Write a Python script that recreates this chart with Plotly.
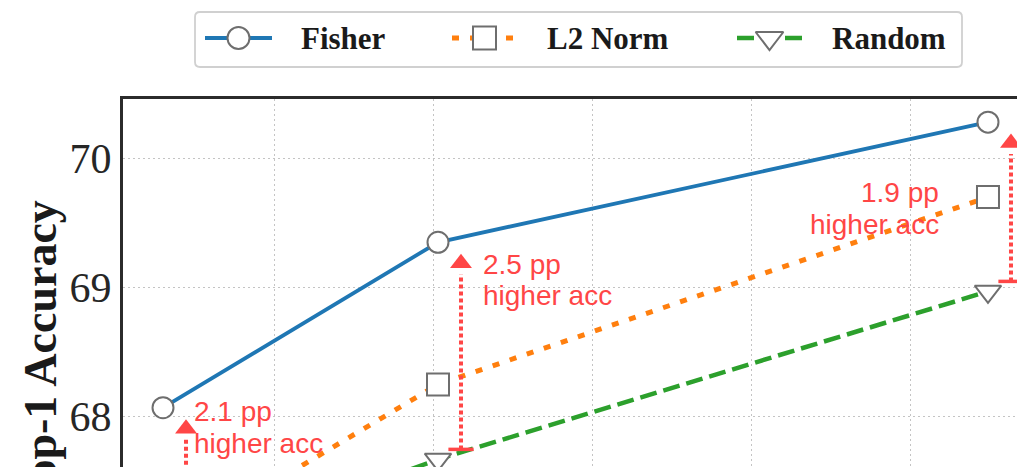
import plotly.graph_objects as go

# ---- data -------------------------------------------------------------
budget = [1, 2, 4]
fisher = [68.07, 69.35, 70.28]
l2_norm = [66.98, 68.25, 69.70]
random_sel = [66.90, 67.67, 68.97]
gain_labels = [("2.1 pp", "higher acc"), ("2.5 pp", "higher acc"), ("1.9 pp", "higher acc")]
y_ticks = [68, 69, 70]
series_names = ["Fisher", "L2 Norm", "Random"]

# ---- layout geometry (pixels) -----------------------------------------
W, H = 1017, 467
M_L, M_T = 123, 99
x_range = [0.8545, 4.1055]
y_range = [67.611, 70.459]
plot_w, plot_h = W - M_L, H - M_T
x_ppu = plot_w / (x_range[1] - x_range[0])   # pixels per x unit
y_ppu = plot_h / (y_range[1] - y_range[0])   # pixels per y unit

RED = "#ff4646"
EDGE = "#6e6e6e"
SERIF = "Liberation Serif"
SANS = "Liberation Sans"
GRID = dict(showgrid=True, gridcolor="#c4c4c4", gridwidth=1.4, griddash="2px,3px")

styles = [
    dict(color="#1f77b4", dash="solid", width=3.8, symbol="circle", size=21),
    dict(color="#ff7f0e", dash="7px,11px", width=5, symbol="square", size=22),
    dict(color="#2ca02c", dash="17px,7px", width=4.5, symbol="triangle-down", size=23),
]

fig = go.Figure()

for name, vals, st in zip(series_names, [fisher, l2_norm, random_sel], styles):
    fig.add_trace(go.Scatter(
        x=budget, y=vals, name=name, mode="lines+markers", showlegend=False,
        line=dict(color=st["color"], width=st["width"], dash=st["dash"]),
        marker=dict(symbol=st["symbol"], size=st["size"], color="white",
                    line=dict(color=EDGE, width=2)),
    ))

# ---- gap arrows between Fisher and Random -----------------------------
pad = 10 / y_ppu
head_size = 19
head_off = 1.155 * head_size / 2 / y_ppu
arrow_x = [b + 23 / x_ppu for b in budget]
tips = [f - pad for f in fisher]
bases = [r + pad for r in random_sel]

for ax_, tip, base in zip(arrow_x, tips, bases):
    fig.add_shape(type="line", xref="x", yref="y",
                  x0=ax_, x1=ax_, y0=base, y1=tip - 2 * head_off,
                  line=dict(color=RED, width=4, dash="4px,3px"))

fig.add_trace(go.Scatter(
    x=arrow_x, y=[t - head_off for t in tips], mode="markers",
    marker=dict(symbol="triangle-up", size=head_size, color=RED, line=dict(width=0)),
    showlegend=False, hoverinfo="skip"))
fig.add_trace(go.Scatter(
    x=arrow_x, y=bases, mode="markers",
    marker=dict(symbol="line-ew", size=18, line=dict(color=RED, width=3.5)),
    showlegend=False, hoverinfo="skip"))

# ---- gain labels (two lines each, placed next to the Fisher point) ----
label_pos = [
    dict(xanchor="left", xshift=29, dy=-4),
    dict(xanchor="left", xshift=43, dy=-22),
    dict(xanchor="right", xshift=-47, dy=-70.5),
]
LINE_GAP = 31.5
for b, f, lines, pos in zip(budget, fisher, gain_labels, label_pos):
    for k, txt in enumerate(lines):
        fig.add_annotation(x=b, y=f, xref="x", yref="y", text=txt, showarrow=False,
                           xanchor=pos["xanchor"], yanchor="middle",
                           xshift=pos["xshift"], yshift=pos["dy"] - k * LINE_GAP,
                           font=dict(family=SANS, size=28, color=RED))

# y-axis title
fig.add_annotation(text="<b>Top-1 Accuracy</b>", xref="paper", yref="paper",
                   x=40 / W, y=(H - 355) / H,
                   xanchor="center", yanchor="middle", textangle=-90, showarrow=False,
                   font=dict(family=SERIF, size=46, color="#1a1a1a"))

# ---- legend, drawn on a pixel-unit overlay axis -----------------------
leg_box = dict(x0=195, x1=962, y0=12, y1=67, r=5)
leg_cy = 38
leg_items = [  # swatch start, swatch end, text start
    (205, 272, 299),
    (452, 517, 545),
    (737, 802, 830),
]
b_ = leg_box
path = (f"M {b_['x0'] + b_['r']},{b_['y0']} L {b_['x1'] - b_['r']},{b_['y0']} "
        f"Q {b_['x1']},{b_['y0']} {b_['x1']},{b_['y0'] + b_['r']} "
        f"L {b_['x1']},{b_['y1'] - b_['r']} Q {b_['x1']},{b_['y1']} {b_['x1'] - b_['r']},{b_['y1']} "
        f"L {b_['x0'] + b_['r']},{b_['y1']} Q {b_['x0']},{b_['y1']} {b_['x0']},{b_['y1'] - b_['r']} "
        f"L {b_['x0']},{b_['y0'] + b_['r']} Q {b_['x0']},{b_['y0']} {b_['x0'] + b_['r']},{b_['y0']} Z")
fig.add_shape(type="path", path=path, xref="x2", yref="y2",
              line=dict(color="#d0d0d0", width=1.8), fillcolor="white", layer="below")

for name, st, (s0, s1, tx) in zip(series_names, styles, leg_items):
    fig.add_trace(go.Scatter(
        x=[s0, s1], y=[leg_cy, leg_cy], xaxis="x2", yaxis="y2", mode="lines",
        line=dict(color=st["color"], width=st["width"], dash=st["dash"]),
        showlegend=False, hoverinfo="skip"))
    fig.add_trace(go.Scatter(
        x=[(s0 + s1) / 2], y=[leg_cy], xaxis="x2", yaxis="y2", mode="markers",
        marker=dict(symbol=st["symbol"], size=st["size"] + 1, color="white",
                    line=dict(color=EDGE, width=2)),
        showlegend=False, hoverinfo="skip"))
    fig.add_annotation(x=tx, y=leg_cy, xref="x2", yref="y2", text=name, showarrow=False,
                       xanchor="left", yanchor="middle",
                       font=dict(family=SERIF, size=31, color="#1a1a1a", weight="bold"))

fig.update_layout(
    width=W, height=H,
    margin=dict(l=0, r=0, t=0, b=0, pad=0),
    paper_bgcolor="white", plot_bgcolor="rgba(0,0,0,0)",
    showlegend=False,
    xaxis=dict(
        domain=[M_L / W, 1], range=x_range, side="top", anchor="y",
        showline=True, linecolor="#2b2b2b", linewidth=3,
        showticklabels=False, ticks="", zeroline=False,
        tick0=1 + 111 / x_ppu, dtick=159 / x_ppu, **GRID,
    ),
    yaxis=dict(
        domain=[0, plot_h / H], range=y_range, anchor="x",
        showline=True, linecolor="#2b2b2b", linewidth=3,
        tickvals=y_ticks, ticktext=[str(t) for t in y_ticks], ticks="",
        tickfont=dict(family=SERIF, size=42, color="#262626"),
        ticklabelstandoff=0, zeroline=False, **GRID,
    ),
    xaxis2=dict(domain=[0, 1], range=[0, W], anchor="y2", visible=False, fixedrange=True),
    yaxis2=dict(domain=[0, 1], range=[H, 0], anchor="x2", visible=False, fixedrange=True),
)

fig.write_html("out.html")
